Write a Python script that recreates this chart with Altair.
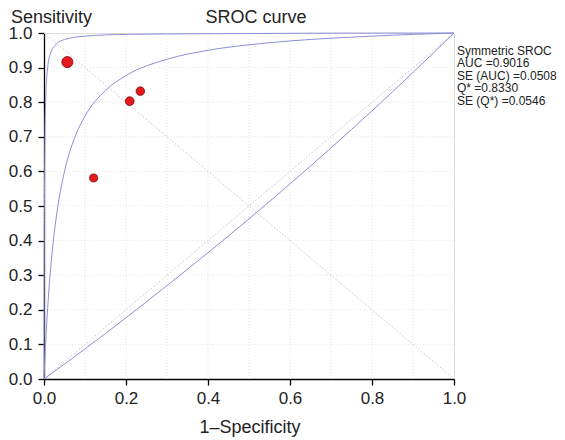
import altair as alt
import pandas as pd

# --- data ---
study_fpr = [0.057, 0.209, 0.235, 0.121]
study_sens = [0.916, 0.803, 0.832, 0.581]
study_weight = [120, 75, 70, 62]

sroc_fpr = [0.0, 0.001, 0.003, 0.006, 0.01, 0.02, 0.03, 0.05, 0.075, 0.1, 0.15, 0.2, 0.3, 0.4, 0.5, 0.6, 0.7, 0.8, 0.9, 1.0]
sroc_sens = [0.0, 0.028, 0.079, 0.147, 0.224, 0.368, 0.468, 0.600, 0.698, 0.760, 0.834, 0.877, 0.924, 0.950, 0.966, 0.977, 0.985, 0.991, 0.996, 1.0]

upper_fpr = [0.0, 0.0005, 0.001, 0.002, 0.004, 0.008, 0.015, 0.03, 0.05, 0.1, 0.2, 0.4, 0.7, 1.0]
upper_sens = [0.0, 0.33, 0.498, 0.665, 0.80, 0.889, 0.938, 0.968, 0.981, 0.991, 0.996, 0.998, 0.9996, 1.0]

lower_fpr = [0.0, 0.1, 0.2, 0.3, 0.4, 0.5, 0.6, 0.7, 0.8, 0.9, 1.0]
lower_sens = [0.0, 0.087, 0.177, 0.270, 0.365, 0.463, 0.564, 0.668, 0.775, 0.886, 1.0]

grid_vals = [0.1, 0.2, 0.3, 0.4, 0.5, 0.6, 0.7, 0.8, 0.9]
x_ticks = [0.0, 0.2, 0.4, 0.6, 0.8, 1.0]
y_ticks = [0.0, 0.1, 0.2, 0.3, 0.4, 0.5, 0.6, 0.7, 0.8, 0.9, 1.0]

stats_lines = ["Symmetric SROC", "AUC =0.9016", "SE (AUC) =0.0508", "Q* =0.8330", "SE (Q*) =0.0546"]

FONT = "Liberation Sans"
W, H = 410, 346

xs = alt.Scale(domain=[0, 1], nice=False, zero=False)
ys = alt.Scale(domain=[0, 1], nice=False, zero=False)

curves = pd.concat([
    pd.DataFrame({"fpr": sroc_fpr, "sens": sroc_sens, "curve": "sroc"}),
    pd.DataFrame({"fpr": upper_fpr, "sens": upper_sens, "curve": "upper"}),
    pd.DataFrame({"fpr": lower_fpr, "sens": lower_sens, "curve": "lower"}),
])
studies = pd.DataFrame({"fpr": study_fpr, "sens": study_sens, "w": study_weight})
gx = pd.DataFrame({"v": grid_vals})
refl = pd.DataFrame({"fpr": [0, 1, 0, 1], "sens": [0, 1, 1, 0], "g": ["d", "d", "a", "a"]})

x_axis = alt.Axis(values=x_ticks, format=".1f", title=None, grid=False,
                  labelFontSize=17, labelFont=FONT, labelColor="#222",
                  tickSize=6, tickColor="black", domainColor="black",
                  domainWidth=1.3, tickWidth=1.3, labelPadding=5,
                  labelFlush=False, labelOverlap=False)
y_axis = alt.Axis(values=y_ticks, format=".1f", title=None, grid=False,
                  labelFontSize=17, labelFont=FONT, labelColor="#222",
                  tickSize=6, tickColor="black", domainColor="black",
                  domainWidth=1.3, tickWidth=1.3, labelPadding=6,
                  labelFlush=False, labelOverlap=False)

def X(field):
    return alt.X(field, scale=xs, axis=x_axis)

def Y(field):
    return alt.Y(field, scale=ys, axis=y_axis)

grid_v = alt.Chart(gx).mark_rule(color="#e6e6e6", strokeDash=[1, 2], strokeWidth=1).encode(x=X("v:Q"))
grid_h = alt.Chart(gx).mark_rule(color="#e6e6e6", strokeDash=[1, 2], strokeWidth=1).encode(y=Y("v:Q"))

ref = alt.Chart(refl).mark_line(color="#c8c8c8", strokeDash=[1.5, 2], strokeWidth=1).encode(
    x=X("fpr:Q"), y=Y("sens:Q"), detail="g:N")

lines = alt.Chart(curves).mark_line(color="#8c8ed8", strokeWidth=1, interpolate="monotone").encode(
    x=X("fpr:Q"), y=Y("sens:Q"), detail="curve:N", order="fpr:Q")

pts = alt.Chart(studies).mark_circle(color="#e3191c", opacity=1, stroke="#7a1010", strokeWidth=0.8).encode(
    x=X("fpr:Q"), y=Y("sens:Q"),
    size=alt.Size("w:Q", scale=alt.Scale(domain=[0, 120], range=[0, 125]), legend=None))

dummy = pd.DataFrame({"a": [0]})
t_sens = alt.Chart(dummy).mark_text(text="Sensitivity", font=FONT, fontSize=18, align="left",
                                    baseline="alphabetic", color="#222").encode(
    x=alt.value(-33), y=alt.value(-10))
t_title = alt.Chart(dummy).mark_text(text="SROC curve", font=FONT, fontSize=18, align="center",
                                     baseline="alphabetic", color="#222").encode(
    x=alt.value(212), y=alt.value(-10))
t_xlab = alt.Chart(dummy).mark_text(text="1–Specificity", font=FONT, fontSize=18, align="center",
                                    baseline="alphabetic", color="#222").encode(
    x=alt.value(206), y=alt.value(400))
t_stats = alt.Chart(dummy).mark_text(text="\n".join(stats_lines), lineBreak="\n", font=FONT, fontSize=12,
                                     lineHeight=12.4, align="left", baseline="top", color="#222").encode(
    x=alt.value(413), y=alt.value(13))

chart = alt.layer(grid_v, grid_h, ref, lines, pts, t_sens, t_title, t_xlab, t_stats).properties(
    width=W, height=H,
    autosize=alt.AutoSizeParams(type="none"),
    padding={"left": 36, "top": 25, "right": 103, "bottom": 61},
).configure_view(stroke="black", strokeWidth=1.3).configure(background="white")

chart.save("out.html", embed_options={"renderer": "svg", "actions": False})
